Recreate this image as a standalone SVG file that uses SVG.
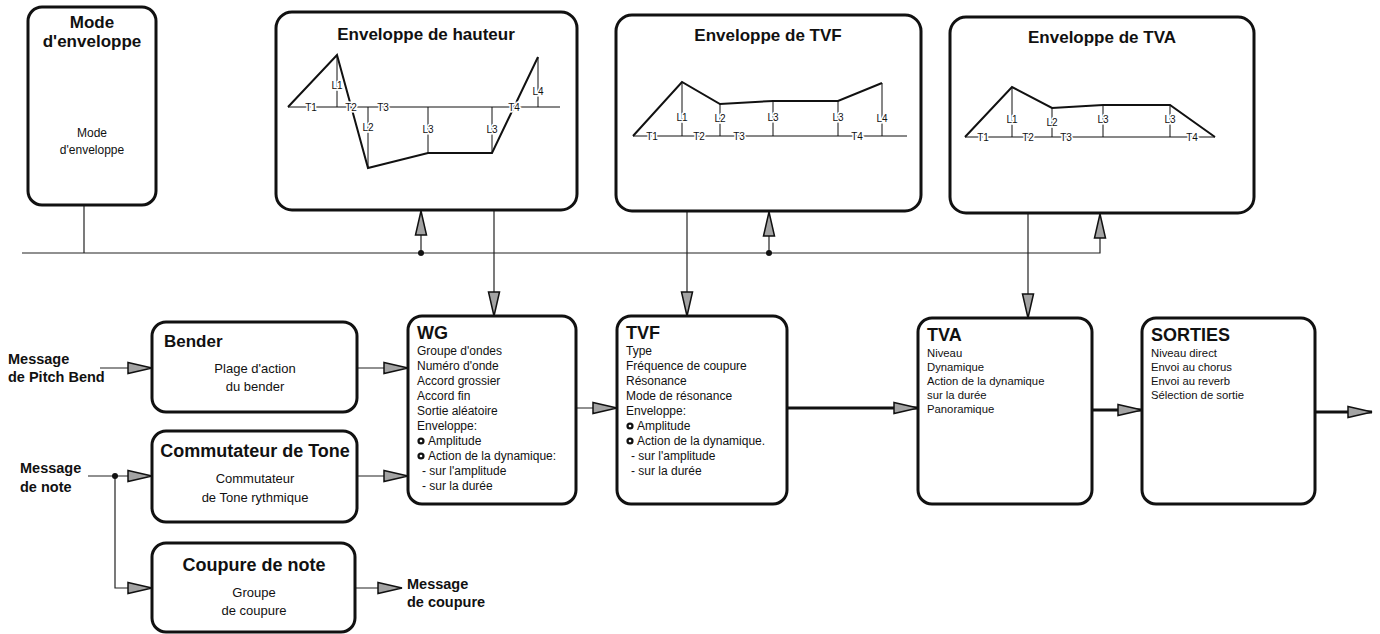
<svg xmlns="http://www.w3.org/2000/svg" width="1380" height="634" viewBox="0 0 1380 634">
  <defs>
    <style>
      text { font-family: "Liberation Sans", Arial, Helvetica, sans-serif; fill: #111; }
      .box { fill: #fff; stroke: #111; stroke-width: 3; }
      .ttl { font-size: 17px; font-weight: bold; }
      .btl { font-size: 17px; font-weight: bold; }
      .htl { font-size: 18px; font-weight: bold; }
      .it { font-size: 12px; }
      .its { font-size: 11.3px; }
      .ctr { text-anchor: middle; }
      .sub { font-size: 13px; }
      .msg { font-size: 14.5px; font-weight: bold; }
      .env { fill: none; stroke: #111; stroke-width: 2; stroke-linejoin: miter; }
      .base { fill: none; stroke: #111; stroke-width: 1; }
      .lbl { font-size: 10px; text-anchor: middle; paint-order: stroke; stroke: #fff; stroke-width: 3px; }
      .wire { fill: none; stroke: #222; stroke-width: 1.2; }
      .main { fill: none; stroke: #111; stroke-width: 3; }
      .dot { fill: #111; }
      .bul { fill: #111; }
      .bulc { fill: #fff; }
    </style>
    <!-- grey-filled triangular arrowhead shared by every connector -->
    <marker id="ah" markerUnits="userSpaceOnUse" markerWidth="26" markerHeight="14" refX="25" refY="7" orient="auto" viewBox="0 0 26 14">
      <path d="M1,1.5 L25,7 L1,12.5 Z" fill="#a3a3a3" stroke="#111" stroke-width="1.5"/>
    </marker>
  </defs>

  <rect width="1380" height="634" fill="#fff"/>

  <!-- connectors -->
  <g id="connectors">
    <!-- control bus -->
    <path class="wire" d="M84,205 V253"/>
    <path class="wire" d="M22,253 H1100 V214" marker-end="url(#ah)"/>
    <path class="wire" d="M421,253 V211" marker-end="url(#ah)"/>
    <path class="wire" d="M769,253 V212" marker-end="url(#ah)"/>
    <circle class="dot" cx="421" cy="253" r="3"/>
    <circle class="dot" cx="769" cy="253" r="3"/>
    <!-- envelope outputs -->
    <path class="wire" d="M494,210 V316" marker-end="url(#ah)"/>
    <path class="wire" d="M687,211 V316" marker-end="url(#ah)"/>
    <path class="wire" d="M1028,213 V318" marker-end="url(#ah)"/>
    <!-- inputs -->
    <path class="wire" d="M100,368 H152" marker-end="url(#ah)"/>
    <path class="wire" d="M357,368 H408" marker-end="url(#ah)"/>
    <path class="wire" d="M88,476 H152" marker-end="url(#ah)"/>
    <path class="wire" d="M115,476 V588 H152" marker-end="url(#ah)"/>
    <circle class="dot" cx="115" cy="476" r="3"/>
    <path class="wire" d="M357,476 H408" marker-end="url(#ah)"/>
    <path class="wire" d="M355,588 H402" marker-end="url(#ah)"/>
    <!-- audio path -->
    <path class="wire" d="M576,408 H617" marker-end="url(#ah)"/>
    <path class="main" d="M787,408 H918" marker-end="url(#ah)"/>
    <path class="main" d="M1092,410 H1142" marker-end="url(#ah)"/>
    <path class="main" d="M1315,412 H1372" marker-end="url(#ah)"/>
  </g>

  <!-- envelope mode -->
  <g id="mode-enveloppe">
    <rect class="box" x="28" y="7" width="128" height="198" rx="14"/>
    <text class="btl ctr" x="92" y="28">Mode</text>
    <text class="btl ctr" x="92" y="47">d'enveloppe</text>
    <text class="it ctr" x="92" y="137">Mode</text>
    <text class="it ctr" x="92" y="154">d'enveloppe</text>
  </g>

  <!-- pitch envelope -->
  <g id="env-hauteur">
    <rect class="box" x="276" y="12" width="301" height="198" rx="16"/>
    <text class="ttl ctr" x="426" y="40">Enveloppe de hauteur</text>
    <path class="base" d="M288,107 H560"/>
    <path class="base" d="M337,55 V107 M368,107 V168 M428,107 V153 M492,107 V153 M538,57 V107"/>
    <path class="env" d="M288,107 L337,55 L368,168 L428,153 L492,153 L538,57"/>
    <text class="lbl" x="311" y="111">T1</text>
    <text class="lbl" x="351" y="111">T2</text>
    <text class="lbl" x="383" y="111">T3</text>
    <text class="lbl" x="514" y="111">T4</text>
    <text class="lbl" x="337" y="89">L1</text>
    <text class="lbl" x="368" y="131">L2</text>
    <text class="lbl" x="428" y="133">L3</text>
    <text class="lbl" x="492" y="133">L3</text>
    <text class="lbl" x="538" y="95">L4</text>
  </g>

  <!-- TVF envelope -->
  <g id="env-tvf">
    <rect class="box" x="616" y="15" width="305" height="196" rx="16"/>
    <text class="ttl ctr" x="768" y="41">Enveloppe de TVF</text>
    <path class="base" d="M633,136 H907"/>
    <path class="base" d="M682,82 V136 M720,104 V136 M773,101 V136 M838,101 V136 M882,83 V136"/>
    <path class="env" d="M633,136 L682,82 L720,104 L773,101 L838,101 L882,83"/>
    <text class="lbl" x="652" y="140">T1</text>
    <text class="lbl" x="699" y="140">T2</text>
    <text class="lbl" x="739" y="140">T3</text>
    <text class="lbl" x="857" y="140">T4</text>
    <text class="lbl" x="682" y="121">L1</text>
    <text class="lbl" x="720" y="122">L2</text>
    <text class="lbl" x="773" y="121">L3</text>
    <text class="lbl" x="838" y="121">L3</text>
    <text class="lbl" x="882" y="122">L4</text>
  </g>

  <!-- TVA envelope -->
  <g id="env-tva">
    <rect class="box" x="950" y="17" width="304" height="196" rx="16"/>
    <text class="ttl ctr" x="1102" y="43">Enveloppe de TVA</text>
    <path class="base" d="M965,137 H1215"/>
    <path class="base" d="M1012,87 V137 M1052,108 V137 M1103,105 V137 M1170,105 V137"/>
    <path class="env" d="M965,137 L1012,87 L1052,108 L1103,105 L1170,105 L1215,137"/>
    <text class="lbl" x="983" y="141">T1</text>
    <text class="lbl" x="1028" y="141">T2</text>
    <text class="lbl" x="1066" y="141">T3</text>
    <text class="lbl" x="1192" y="141">T4</text>
    <text class="lbl" x="1012" y="123">L1</text>
    <text class="lbl" x="1052" y="126">L2</text>
    <text class="lbl" x="1103" y="123">L3</text>
    <text class="lbl" x="1170" y="123">L3</text>
  </g>

  <!-- external messages -->
  <g id="msg-pitch-bend">
    <text class="msg" x="8" y="364">Message</text>
    <text class="msg" x="8" y="382">de Pitch Bend</text>
  </g>
  <g id="msg-note">
    <text class="msg" x="20" y="473">Message</text>
    <text class="msg" x="20" y="492">de note</text>
  </g>
  <g id="msg-coupure">
    <text class="msg" x="407" y="589">Message</text>
    <text class="msg" x="407" y="607">de coupure</text>
  </g>

  <!-- bender -->
  <g id="bender">
    <rect class="box" x="152" y="322" width="205" height="90" rx="14"/>
    <text class="btl" x="164" y="347">Bender</text>
    <text class="sub ctr" x="255" y="373">Plage d'action</text>
    <text class="sub ctr" x="255" y="391">du bender</text>
  </g>

  <!-- tone switch -->
  <g id="commutateur">
    <rect class="box" x="152" y="431" width="205" height="91" rx="14"/>
    <text class="htl ctr" x="255" y="457">Commutateur de Tone</text>
    <text class="sub ctr" x="255" y="483">Commutateur</text>
    <text class="sub ctr" x="255" y="502">de Tone rythmique</text>
  </g>

  <!-- note cut -->
  <g id="coupure">
    <rect class="box" x="152" y="543" width="203" height="89" rx="14"/>
    <text class="htl ctr" x="254" y="571">Coupure de note</text>
    <text class="sub ctr" x="254" y="597">Groupe</text>
    <text class="sub ctr" x="254" y="615">de coupure</text>
  </g>

  <!-- wave generator -->
  <g id="wg">
    <rect class="box" x="408" y="316" width="168" height="188" rx="14"/>
    <text class="htl" x="417" y="339">WG</text>
    <text class="it" x="417" y="355">Groupe d'ondes</text>
    <text class="it" x="417" y="370">Numéro d'onde</text>
    <text class="it" x="417" y="385">Accord grossier</text>
    <text class="it" x="417" y="400">Accord fin</text>
    <text class="it" x="417" y="415">Sortie aléatoire</text>
    <text class="it" x="417" y="430">Enveloppe:</text>
    <circle class="bul" cx="421" cy="441" r="3.6"/><circle class="bulc" cx="421" cy="441" r="1.3"/>
    <text class="it" x="428" y="445">Amplitude</text>
    <circle class="bul" cx="421" cy="456" r="3.6"/><circle class="bulc" cx="421" cy="456" r="1.3"/>
    <text class="it" x="428" y="460">Action de la dynamique:</text>
    <text class="it" x="422" y="475">- sur l'amplitude</text>
    <text class="it" x="422" y="490">- sur la durée</text>
  </g>

  <!-- filter -->
  <g id="tvf">
    <rect class="box" x="617" y="316" width="170" height="188" rx="14"/>
    <text class="htl" x="626" y="339">TVF</text>
    <text class="it" x="626" y="355">Type</text>
    <text class="it" x="626" y="370">Fréquence de coupure</text>
    <text class="it" x="626" y="385">Résonance</text>
    <text class="it" x="626" y="400">Mode de résonance</text>
    <text class="it" x="626" y="415">Enveloppe:</text>
    <circle class="bul" cx="630" cy="426" r="3.6"/><circle class="bulc" cx="630" cy="426" r="1.3"/>
    <text class="it" x="637" y="430">Amplitude</text>
    <circle class="bul" cx="630" cy="441" r="3.6"/><circle class="bulc" cx="630" cy="441" r="1.3"/>
    <text class="it" x="637" y="445">Action de la dynamique.</text>
    <text class="it" x="631" y="460">- sur l'amplitude</text>
    <text class="it" x="631" y="475">- sur la durée</text>
  </g>

  <!-- amplifier -->
  <g id="tva">
    <rect class="box" x="918" y="318" width="174" height="186" rx="14"/>
    <text class="htl" x="927" y="341">TVA</text>
    <text class="its" x="927" y="357">Niveau</text>
    <text class="its" x="927" y="371">Dynamique</text>
    <text class="its" x="927" y="385">Action de la dynamique</text>
    <text class="its" x="927" y="399">sur la durée</text>
    <text class="its" x="927" y="413">Panoramique</text>
  </g>

  <!-- outputs -->
  <g id="sorties">
    <rect class="box" x="1142" y="318" width="173" height="186" rx="14"/>
    <text class="htl" x="1151" y="341">SORTIES</text>
    <text class="its" x="1151" y="357">Niveau direct</text>
    <text class="its" x="1151" y="371">Envoi au chorus</text>
    <text class="its" x="1151" y="385">Envoi au reverb</text>
    <text class="its" x="1151" y="399">Sélection de sortie</text>
  </g>
</svg>
